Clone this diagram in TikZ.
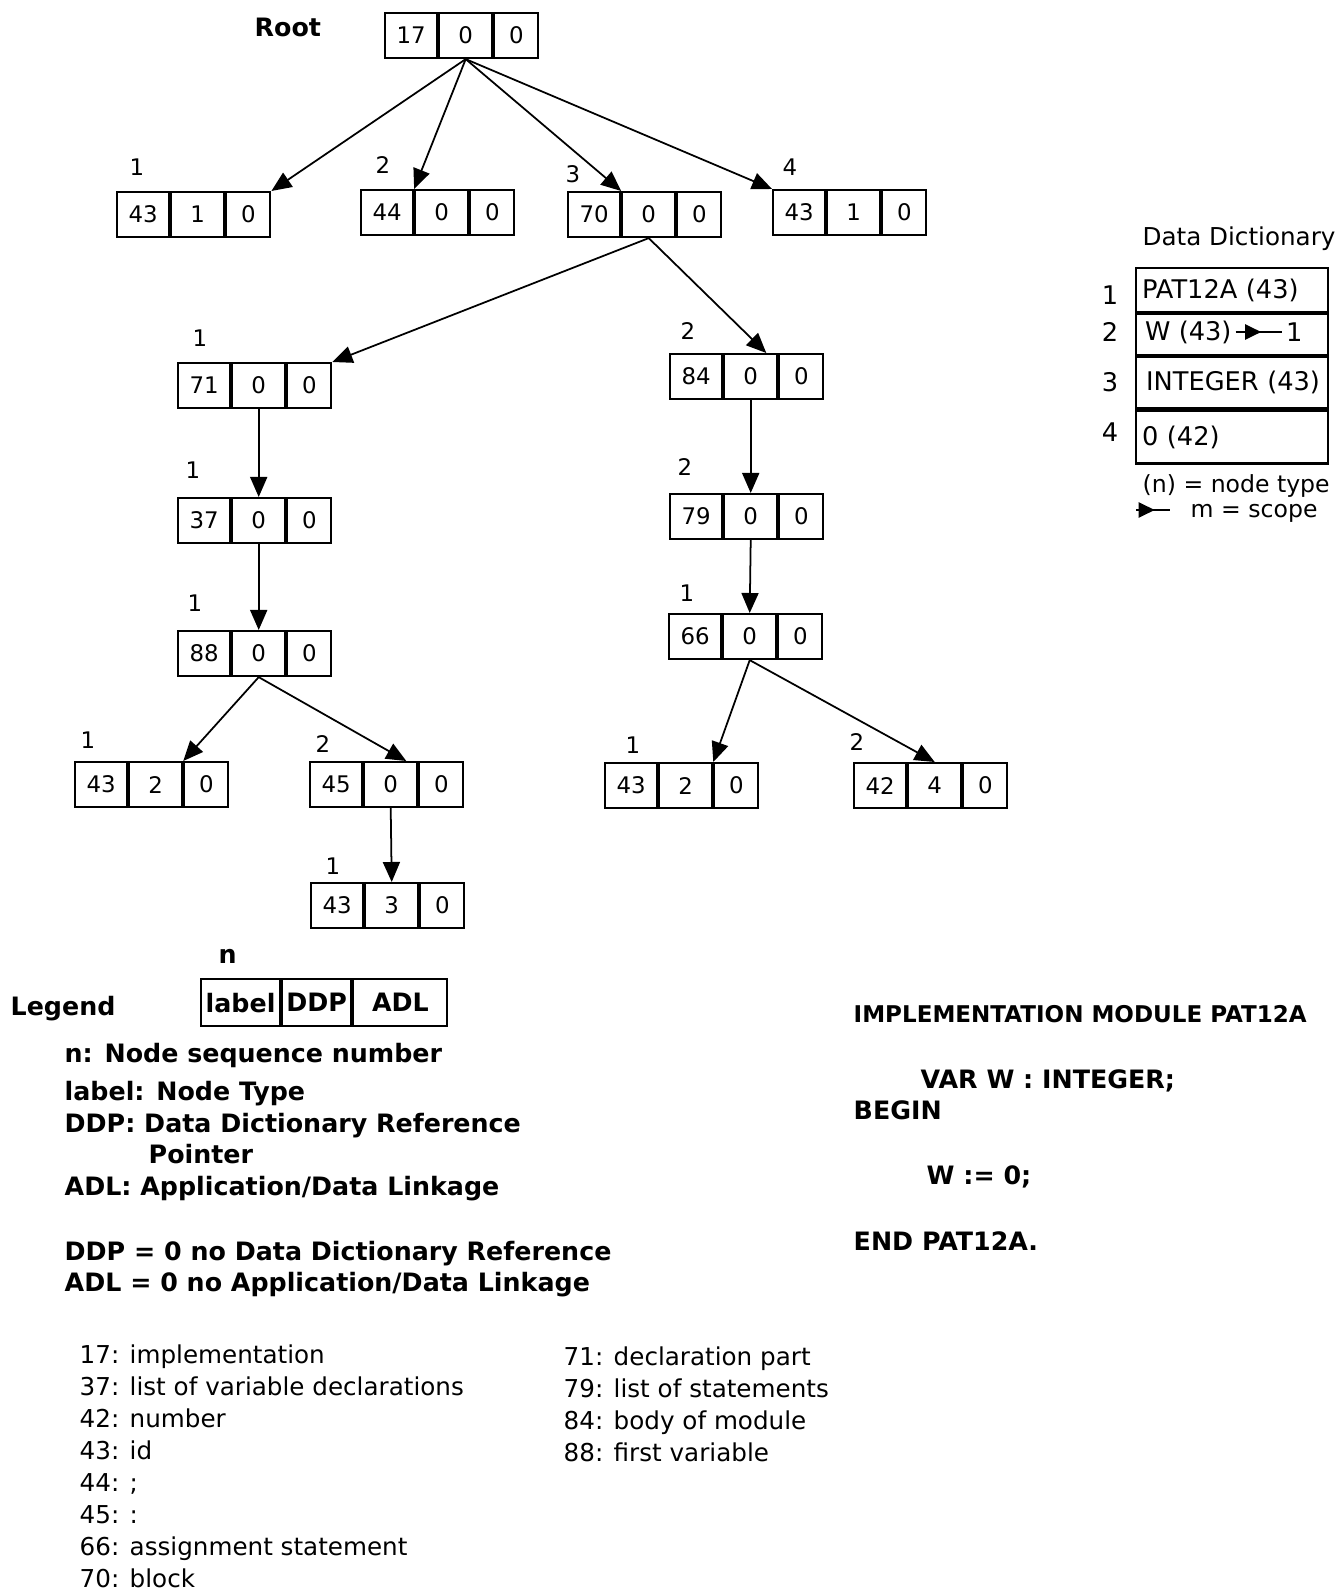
\documentclass[tikz,border=0pt]{standalone}
\usepackage{fontspec}
\setmainfont{DejaVu Sans}
\usetikzlibrary{arrows.meta,decorations.markings}

\tikzset{
  cell/.style={draw, line width=0.6pt, anchor=north west, minimum height=0.45cm,
    inner sep=0pt, font=\fontsize{6.5}{8}\selectfont},
  legcell/.style={draw, line width=0.6pt, anchor=north west, minimum height=0.47cm,
    inner sep=0pt, font=\fontsize{7.2}{9}\selectfont\bfseries},
  seqno/.style={inner sep=0pt, font=\fontsize{6.5}{8}\selectfont},
  tarrow/.style={line width=0.5pt, -{Triangle[length=0.2cm,width=0.17cm]}},
  ddrow/.style={draw, line width=0.6pt, anchor=north west, minimum width=1.92cm,
    text width=1.8cm, inner xsep=0.06cm, inner ysep=0pt, align=left,
    font=\fontsize{7.3}{9}\selectfont},
  plain/.style={anchor=base west, inner sep=0pt, font=\fontsize{7}{9}\selectfont},
  heavy/.style={anchor=base west, inner sep=0pt, font=\fontsize{7.2}{9}\selectfont\bfseries},
  midarrow/.style={line width=0.6pt, postaction={decorate},
    decoration={markings, mark=at position 0.55 with {\arrow{Triangle[length=0.16cm,width=0.15cm]}}}}
}

% one tree record: label | DDP | ADL
\newcommand{\recbox}[5]{%
  \node[cell, minimum width=0.52cm] (#1-l) at (#2) {#3};
  \node[cell, minimum width=0.53cm] (#1-d) at (#1-l.north east) {#4};
  \node[cell, minimum width=0.44cm] (#1-a) at (#1-d.north east) {#5};}

\begin{document}
\begin{tikzpicture}[x=0.01cm, y=-0.01cm]
  \useasboundingbox (0,0) rectangle (1338,1592);

  % Tree records
  \node[heavy] (rootlbl) at (254,37) {Root};
  \recbox{root}{384,12}{17}{0}{0}
  \recbox{n1}{116,191}{43}{1}{0}
  \recbox{n2}{360,189}{44}{0}{0}
  \recbox{n3}{567,191}{70}{0}{0}
  \recbox{n4}{772,189}{43}{1}{0}
  \recbox{n71}{177,362}{71}{0}{0}
  \recbox{n84}{669,353}{84}{0}{0}
  \recbox{n37}{177,497}{37}{0}{0}
  \recbox{n79}{669,493}{79}{0}{0}
  \recbox{n88}{177,630}{88}{0}{0}
  \recbox{n66}{668,613}{66}{0}{0}
  \recbox{n43a}{74,761}{43}{2}{0}
  \recbox{n45}{309,761}{45}{0}{0}
  \recbox{n43b}{604,762}{43}{2}{0}
  \recbox{n42}{853,762}{42}{4}{0}
  \recbox{n43c}{310,882}{43}{3}{0}

  % Sequence numbers
  \node[seqno] (s-n1) at (137,167) {1};
  \node[seqno] (s-n2) at (383,165) {2};
  \node[seqno] (s-n3) at (573,174) {3};
  \node[seqno] (s-n4) at (790,167) {4};
  \node[seqno] (s-n71) at (200,338) {1};
  \node[seqno] (s-n84) at (688,331) {2};
  \node[seqno] (s-n37) at (193,470) {1};
  \node[seqno] (s-n79) at (685,467) {2};
  \node[seqno] (s-n88) at (195,603) {1};
  \node[seqno] (s-n66) at (687,593) {1};
  \node[seqno] (s-n43a) at (88,740) {1};
  \node[seqno] (s-n45) at (323,744) {2};
  \node[seqno] (s-n43b) at (633,745) {1};
  \node[seqno] (s-n42) at (857,742) {2};
  \node[seqno] (s-n43c) at (333,866) {1};

  % Links
  \draw[tarrow] (root-d.south) -- (n1-a.north east);
  \draw[tarrow] (root-d.south) -- (n2-d.north west);
  \draw[tarrow] (root-d.south) -- (n3-d.north west);
  \draw[tarrow] (root-d.south) -- (n4-l.north west);
  \draw[tarrow] (n3-d.south) -- (n71-a.north east);
  \draw[tarrow] (n3-d.south) -- ([xshift=-0.12cm]n84-d.north east);
  \draw[tarrow] (n71-d.south) -- (n37-d.north);
  \draw[tarrow] (n37-d.south) -- (n88-d.north);
  \draw[tarrow] (n88-d.south) -- (n43a-a.north west);
  \draw[tarrow] (n88-d.south) -- ([xshift=-0.12cm]n45-d.north east);
  \draw[tarrow] (n45-d.south) -- (n43c-d.north);
  \draw[tarrow] (n84-d.south) -- (n79-d.north);
  \draw[tarrow] (n79-d.south) -- (n66-d.north);
  \draw[tarrow] (n66-d.south) -- (n43b-a.north west);
  \draw[tarrow] (n66-d.south) -- (n42-d.north);

  % Data dictionary
  \node[inner sep=0pt, font=\fontsize{7}{9}\selectfont] (ddtitle) at (1239,239) {Data Dictionary};
  \node[ddrow, minimum height=0.44cm] (dd1) at (1135,267) {PAT12A (43)};
  \node[ddrow, minimum height=0.41cm] (dd2) at (dd1.south west) {};
  \node[ddrow, minimum height=0.51cm] (dd3) at (dd2.south west) {\hspace{0.04cm}INTEGER (43)};
  \node[ddrow, minimum height=0.53cm] (dd4) at (dd3.south west) {0 (42)};
  \node[inner sep=1pt, anchor=west, font=\fontsize{7.3}{9}\selectfont] (w43) at (1141,332) {W (43)};
  \node[inner sep=1pt, anchor=west, font=\fontsize{7.3}{9}\selectfont] (scp) at (1282,332) {1};
  \draw[midarrow] (w43.east) -- (scp.west);
  \node[inner sep=0pt, font=\fontsize{7.3}{9}\selectfont] (ddn1) at (1110,295) {1};
  \node[inner sep=0pt, font=\fontsize{7.3}{9}\selectfont] (ddn2) at (1110,332) {2};
  \node[inner sep=0pt, font=\fontsize{7.3}{9}\selectfont] (ddn3) at (1110,382) {3};
  \node[inner sep=0pt, font=\fontsize{7.3}{9}\selectfont] (ddn4) at (1110,432) {4};
  \node[plain, font=\fontsize{6.7}{9}\selectfont] (ntype) at (1142,493) {(n) = node type};
  \coordinate (sc0) at (1136,510);
  \coordinate (sc1) at (1170,510);
  \draw[midarrow] (sc0) -- (sc1);
  \node[plain, font=\fontsize{6.7}{9}\selectfont] (scope) at (1190,518) {m = scope};

  % Legend
  \node[heavy] (legend) at (10,1015) {Legend};
  \node[heavy] (legn) at (218,963) {n};
  \node[legcell, minimum width=0.79cm] (lg-l) at (200,978) {label};
  \node[legcell, minimum width=0.69cm] (lg-d) at (lg-l.north east) {DDP};
  \node[legcell, minimum width=0.94cm] (lg-a) at (lg-d.north east) {ADL};
  \node[heavy] (lgt1) at (64,1062) {n: Node sequence number};
  \node[heavy] (lgt2) at (64,1100) {label: Node Type};
  \node[heavy] (lgt3) at (64,1132) {DDP: Data Dictionary Reference};
  \node[heavy] (lgt4) at (148,1163) {Pointer};
  \node[heavy] (lgt5) at (64,1195) {ADL: Application/Data Linkage};
  \node[heavy] (lgt6) at (64,1260) {DDP = 0 no Data Dictionary Reference};
  \node[heavy] (lgt7) at (64,1291) {ADL = 0 no Application/Data Linkage};

  % Source program
  \node[heavy, font=\fontsize{6.55}{9}\selectfont\bfseries] (src1) at (853,1022) {IMPLEMENTATION MODULE PAT12A};
  \node[heavy] (src2) at (920,1088) {VAR W : INTEGER;};
  \node[heavy] (src3) at (853,1119) {BEGIN};
  \node[heavy] (src4) at (926,1184) {W := 0;};
  \node[heavy] (src5) at (853,1250) {END PAT12A.};

  % Node type codes
  \node[plain] (c17) at (79,1363) {17: implementation};
  \node[plain] (c37) at (79,1395) {37: list of variable declarations};
  \node[plain] (c42) at (79,1427) {42: number};
  \node[plain] (c43) at (79,1459) {43: id};
  \node[plain] (c44) at (79,1491) {44: ;};
  \node[plain] (c45) at (79,1523) {45: :};
  \node[plain] (c66) at (79,1555) {66: assignment statement};
  \node[plain] (c70) at (79,1587) {70: block};
  \node[plain] (c71) at (563,1365) {71: declaration part};
  \node[plain] (c79) at (563,1397) {79: list of statements};
  \node[plain] (c84) at (563,1429) {84: body of module};
  \node[plain] (c88) at (563,1461) {88: first variable};
\end{tikzpicture}
\end{document}
